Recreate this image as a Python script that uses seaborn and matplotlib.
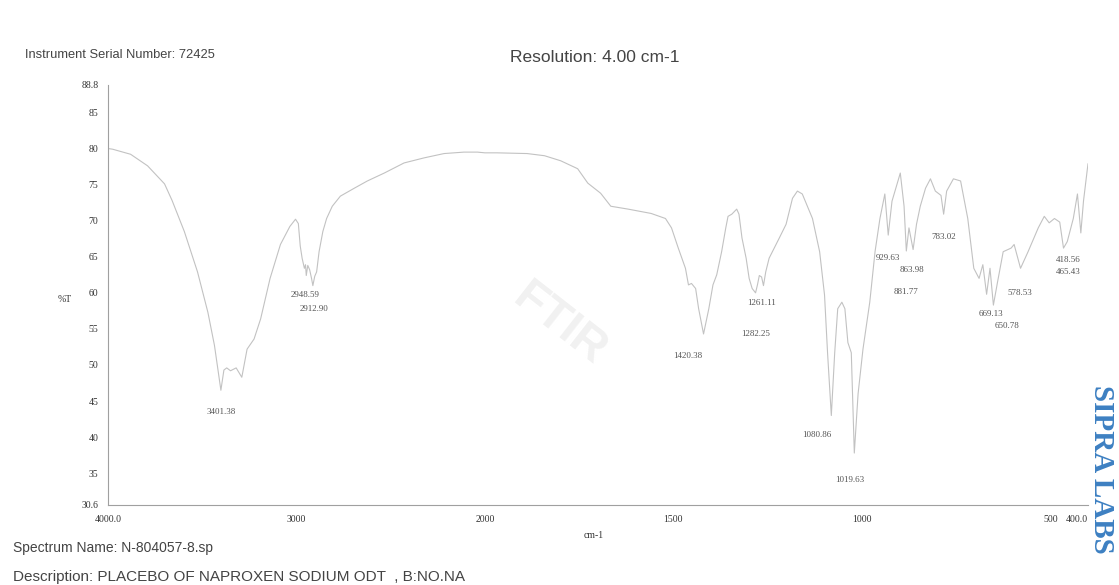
import matplotlib
matplotlib.use("Agg")
import matplotlib.pyplot as plt
import numpy as np
import seaborn as sns

# spectrum (cm-1, %T)
wavenumber = [4000, 3975, 3880, 3790, 3700, 3660, 3648, 3595, 3525, 3470, 3435, 3401,
              3385, 3370, 3350, 3320, 3290, 3262, 3225, 3190, 3140, 3085, 3035, 3005,
              2990, 2980, 2970, 2958, 2952, 2948, 2940, 2930, 2920, 2913, 2903, 2893,
              2880, 2860, 2840, 2810, 2767, 2693, 2624, 2534, 2429, 2323, 2217, 2111,
              2040, 2000, 1968, 1888, 1842, 1799, 1754, 1727, 1693, 1666, 1620, 1559,
              1521, 1505, 1487, 1468, 1460, 1452, 1441, 1433, 1420, 1406, 1395, 1385,
              1372, 1361, 1355, 1345, 1332, 1326, 1318, 1307, 1299, 1291, 1282, 1277,
              1272, 1266, 1261, 1255, 1246, 1219, 1201, 1184, 1171, 1158, 1131, 1112,
              1099, 1091, 1081, 1072, 1064, 1053, 1045, 1037, 1028, 1020, 1010, 997,
              979, 965, 952, 939, 930, 920, 898, 888, 882, 875, 864, 855, 845, 831,
              818, 805, 790, 783, 775, 757, 738, 719, 703, 689, 679, 669, 660, 651,
              640, 625, 604, 596, 579, 559, 532, 516, 503, 489, 475, 465, 455, 439,
              428, 419, 412, 400]
transmittance = [80.0, 79.9, 79.2, 77.6, 75.1, 72.8, 72.0, 68.5, 62.9, 57.3, 52.7, 46.5,
                 49.3, 49.6, 49.2, 49.6, 48.3, 52.2, 53.6, 56.4, 62.0, 66.7, 69.2, 70.2,
                 69.6, 66.5, 64.8, 63.4, 63.9, 62.4, 63.8, 63.2, 62.0, 61.0, 62.3, 62.9,
                 65.7, 68.5, 70.3, 72.0, 73.4, 74.5, 75.5, 76.6, 78.0, 78.7, 79.3, 79.5,
                 79.5, 79.4, 79.4, 79.3, 79.0, 78.3, 77.2, 75.2, 73.8, 72.0, 71.6, 71.0,
                 70.3, 69.0, 66.2, 63.4, 61.1, 61.3, 60.6, 57.8, 54.3, 57.8, 61.1, 62.5,
                 65.7, 69.0, 70.6, 70.9, 71.6, 70.9, 67.6, 64.8, 62.0, 60.6, 60.0, 61.1,
                 62.4, 62.2, 61.0, 62.9, 64.8, 67.6, 69.5, 73.1, 74.1, 73.7, 70.3, 65.7,
                 59.7, 51.7, 43.0, 51.7, 57.8, 58.7, 57.8, 53.1, 51.7, 37.8, 46.0, 52.2,
                 58.7, 65.7, 70.3, 73.7, 68.0, 72.7, 76.6, 72.0, 65.8, 69.0, 66.0, 69.5,
                 72.0, 74.5, 75.8, 74.1, 73.5, 70.9, 74.1, 75.8, 75.5, 70.3, 63.4, 62.0,
                 63.9, 59.8, 63.4, 58.3, 61.5, 65.7, 66.2, 66.7, 63.4, 65.7, 69.0, 70.6,
                 69.7, 70.3, 69.8, 66.2, 67.1, 70.3, 73.7, 68.3, 72.7, 77.9]

# peak labels and where their text sits (cm-1, %T)
peak_labels = ["3401.38", "2948.59", "2912.90", "1420.38", "1261.11", "1282.25",
               "1080.86", "1019.63", "929.63", "863.98", "881.77", "783.02",
               "669.13", "650.78", "578.53", "418.56", "465.43"]
peak_text_wn = [3401, 2952, 2905, 1463, 1265, 1283, 1120, 1032, 930, 868, 882, 783,
                658, 615, 580, 452, 452]
peak_text_t = [43.5, 59.7, 57.8, 51.3, 58.6, 54.3, 40.3, 34.1, 64.8, 63.2, 60.1, 67.7,
               57.1, 55.4, 60.0, 64.6, 62.9]

xticks = [4000, 3000, 2000, 1500, 1000, 500, 400]
xtick_labels = ["4000.0", "3000", "2000", "1500", "1000", "500", "400.0"]
yticks = [30.6, 35, 40, 45, 50, 55, 60, 65, 70, 75, 80, 85, 88.8]
ytick_labels = ["30.6", "35", "40", "45", "50", "55", "60", "65", "70", "75", "80", "85", "88.8"]


# FTIR chart: scale doubles below 2000 cm-1
def fwd(w):
    w = np.asarray(w, dtype=float)
    return np.where(w >= 2000, w, 2 * w - 2000)


def inv(v):
    v = np.asarray(v, dtype=float)
    return np.where(v >= 2000, v, (v + 2000) / 2)


sns.set_style("white")
plt.rcParams["font.family"] = ["Liberation Serif", "DejaVu Serif"]

W, H = 1119, 585
fig = plt.figure(figsize=(W / 100, H / 100), dpi=100)
ax = fig.add_axes([108 / W, 1 - 505 / H, (1088 - 108) / W, (505 - 85) / H])

sns.lineplot(x=wavenumber, y=transmittance, ax=ax, color="#c2c2c2", linewidth=0.8,
             estimator=None)

ax.set_xscale("function", functions=(fwd, inv))
ax.set_xlim(4000, 400)
ax.set_ylim(30.6, 88.8)
ax.set_xticks(xticks)
ax.set_xticklabels(xtick_labels)
ax.set_yticks(yticks)
ax.set_yticklabels(ytick_labels)
ax.minorticks_off()
ax.tick_params(axis="both", labelsize=7, colors="#777777", length=3, width=0.6,
               direction="out", pad=4)
ax.tick_params(axis="both", labelcolor="#333333")
ax.get_xticklabels()[-1].set_horizontalalignment("right")
for side in ["top", "right"]:
    ax.spines[side].set_visible(False)
for side in ["left", "bottom"]:
    ax.spines[side].set_color("#a0a0a0")
    ax.spines[side].set_linewidth(0.8)
ax.set_xlabel("")
ax.set_ylabel("")

for lab, w, t in zip(peak_labels, peak_text_wn, peak_text_t):
    ax.text(w, t, lab, fontsize=6.5, color="#555555", ha="center", va="center")

# watermark
fig.text(560 / W, 1 - 325 / H, "FTIR", fontsize=34, fontweight="bold", color="#f1f1f1",
         rotation=-38, ha="center", va="center", family="Liberation Sans", zorder=0)

sans = "Liberation Sans"
fig.text(25 / W, 1 - 55 / H, "Instrument Serial Number: 72425", fontsize=9.3,
         color="#444444", family=sans, va="center")
fig.text(510 / W, 1 - 58 / H, "Resolution: 4.00 cm-1", fontsize=12.5,
         color="#444444", family=sans, va="center")
fig.text(65 / W, 1 - 300 / H, "%T", fontsize=7, color="#333333", ha="center", va="center")
fig.text(594 / W, 1 - 535 / H, "cm-1", fontsize=7, color="#333333", ha="center", va="center")
fig.text(13 / W, 1 - 548 / H, "Spectrum Name: N-804057-8.sp", fontsize=10,
         color="#444444", family=sans, va="center")
fig.text(13 / W, 1 - 577 / H, "Description: PLACEBO OF NAPROXEN SODIUM ODT  , B:NO.NA",
         fontsize=11, color="#444444", family=sans, va="center")
fig.text(1101 / W, 1 - 385 / H, "SIPRA LABS", fontsize=21, fontweight="bold",
         color="#3d80c2", rotation=270, ha="center", va="top")

fig.savefig("out.png", dpi=100)
